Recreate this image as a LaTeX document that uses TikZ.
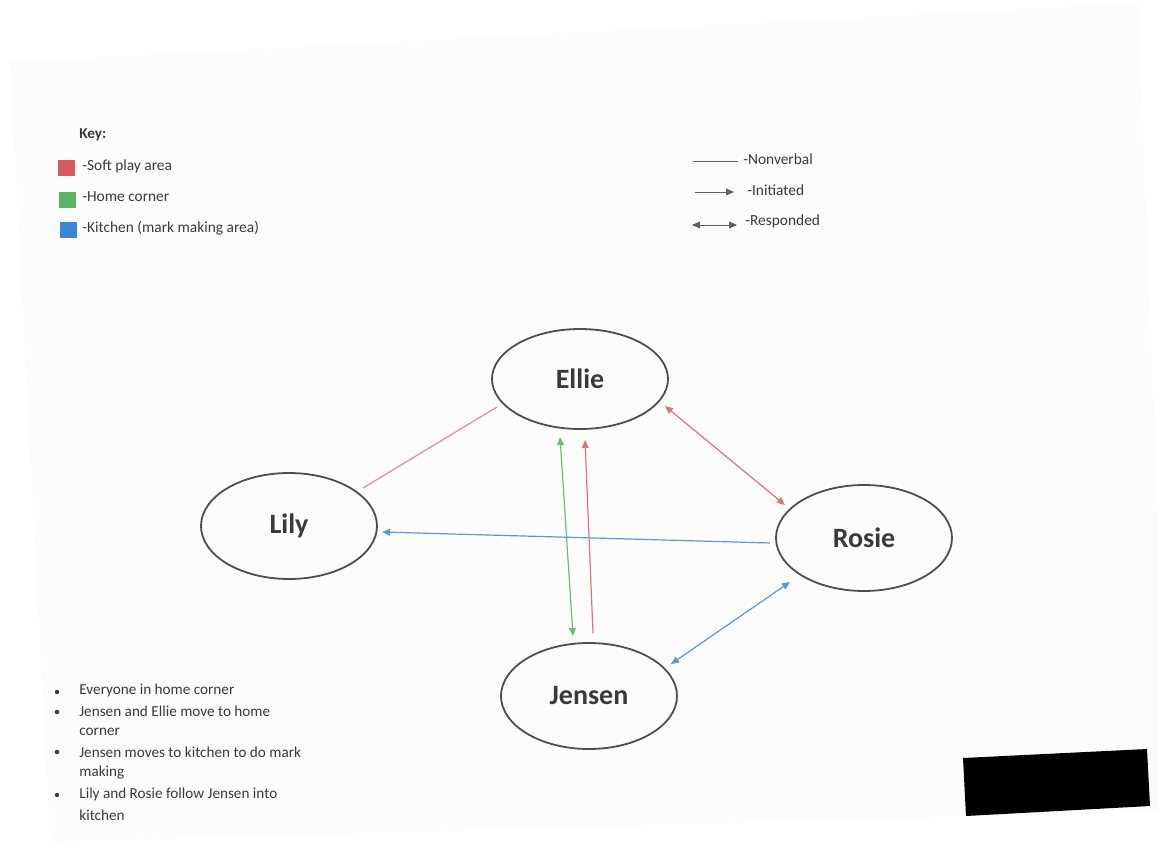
\documentclass[tikz,border=0pt]{standalone}
\usepackage{fontspec}
\setmainfont{Carlito}
\usetikzlibrary{shapes.geometric,arrows.meta,calc}
\definecolor{softred}{HTML}{D95A5E}
\definecolor{homegreen}{HTML}{5CB563}
\definecolor{kitblue}{HTML}{3D85D8}
\definecolor{inkgray}{HTML}{3A3A3A}
\definecolor{pagegray}{HTML}{FCFCFC}
\tikzset{
  person/.style={ellipse, draw=inkgray!90, line width=0.9pt, minimum width=88pt, minimum height=53pt, inner sep=0pt,
    font=\fontsize{14pt}{16pt}\selectfont\bfseries, text=inkgray},
  keytext/.style={anchor=west, inner sep=0pt, font=\fontsize{7.7pt}{9pt}\selectfont, text=inkgray},
  bullettext/.style={anchor=west, inner sep=0pt, font=\fontsize{7.6pt}{9pt}\selectfont, text=inkgray},
  swatch/.style={inner sep=0pt, minimum width=8.5pt, minimum height=8pt},
  link/.style={line width=0.6pt},
  tip/.style={-{Triangle[length=4pt,width=3.4pt]}},
  tips/.style={{Triangle[length=4pt,width=3.4pt]}-{Triangle[length=4pt,width=3.4pt]}},
}
\begin{document}
\begin{tikzpicture}[x=0.5pt,y=-0.5pt]
\useasboundingbox (0,0) rectangle (1158,846);
% scanned page
\fill[pagegray] (10,62) -- (1138,3) -- (1158,520) -- (1158,811) -- (50,842) -- cycle;

% key (left)
\node[anchor=west, inner sep=0pt, font=\fontsize{7.6pt}{9pt}\selectfont\bfseries, text=inkgray] (keyhead) at (79,135) {Key:};
\node[swatch, fill=softred] (sqred) at (66.5,168) {};
\node[swatch, fill=homegreen] (sqgreen) at (67,200) {};
\node[swatch, fill=kitblue] (sqblue) at (68.5,230) {};
\node[keytext] (ksoft) at (82,166) {-Soft play area};
\node[keytext] (khome) at (82,197) {-Home corner};
\node[keytext] (kkit) at (82,228) {-Kitchen (mark making area)};

% key (right)
\node[keytext] (knon) at (743,159) {-Nonverbal};
\node[keytext] (kini) at (747,190) {-Initiated};
\node[keytext] (kres) at (745,221) {-Responded};
\coordinate (n1) at (693,161); \coordinate (n2) at (738,161);
\coordinate (i1) at (695,192); \coordinate (i2) at (734,192);
\coordinate (r1) at (692,225); \coordinate (r2) at (737,225);
\draw[link, inkgray!80, line width=0.45pt] (n1) -- (n2);
\draw[link, inkgray!80, line width=0.45pt, tip] (i1) -- (i2);
\draw[link, inkgray!80, line width=0.45pt, tips] (r1) -- (r2);

% people
\node[person, minimum height=50pt] (Ellie) at (580,379) {Ellie};
\node[person] (Lily) at (289,526) {Lily};
\node[person] (Rosie) at (864,538) {Rosie};
\node[person] (Jensen) at (589,696) {Jensen};

% connectors
\draw[link, softred!70] ($(Lily.center)+(74,-38)$) -- ($(Ellie.center)+(-83,28)$);
\draw[link, softred!85, tips] ($(Ellie.center)+(85,27)$) -- ($(Rosie.center)+(-79,-33)$);
\draw[link, homegreen!90, tips] ($(Ellie.center)+(-20,58)$) -- ($(Jensen.center)+(-16,-60)$);
\draw[link, softred!85, tip] ($(Jensen.center)+(4,-63)$) -- ($(Ellie.center)+(5,61)$);
\draw[link, kitblue!85, tip] ($(Rosie.center)+(-94,5)$) -- ($(Lily.center)+(93,6)$);
\draw[link, kitblue!85, tips] ($(Rosie.center)+(-74,44)$) -- ($(Jensen.center)+(82,-32)$);

% notes
\foreach \y/\nm in {692/b1, 712/b2, 752/b3, 795/b4}
  \node[circle, fill=inkgray, inner sep=0pt, minimum size=2.2pt] (\nm) at (57,\y) {};
\node[bullettext] (t1) at (79,690) {Everyone in home corner};
\node[bullettext] (t2) at (79,711) {Jensen and Ellie move to home};
\node[bullettext] (t3) at (79,732) {corner};
\node[bullettext] (t4) at (79,752) {Jensen moves to kitchen to do mark};
\node[bullettext] (t5) at (79,773) {making};
\node[bullettext] (t6) at (79,794) {Lily and Rosie follow Jensen into};
\node[bullettext] (t7) at (79,815) {kitchen};

% redaction box
\fill[black] (963,758) -- (1147,749) -- (1150,806) -- (966,816) -- cycle;
\end{tikzpicture}
\end{document}
